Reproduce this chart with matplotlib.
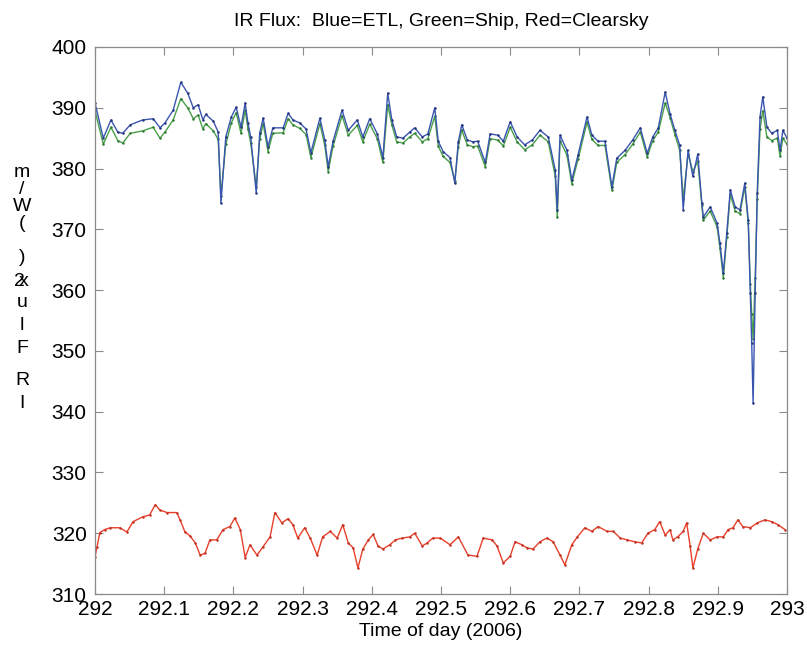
import matplotlib
matplotlib.use("Agg")
import matplotlib.pyplot as plt

plt.rcParams['font.family'] = ['Liberation Sans', 'DejaVu Sans']

# ---- data ----
t_obs = [292.000, 292.012, 292.023, 292.033, 292.040, 292.051, 292.069, 292.084, 292.094, 292.101,
         292.113, 292.124, 292.134, 292.142, 292.149, 292.156, 292.160, 292.171, 292.178, 292.182,
         292.189, 292.197, 292.204, 292.211, 292.217, 292.221, 292.225, 292.233, 292.238, 292.243,
         292.250, 292.257, 292.272, 292.279, 292.286, 292.296, 292.305, 292.312, 292.325, 292.332,
         292.337, 292.344, 292.357, 292.366, 292.379, 292.387, 292.397, 292.408, 292.416, 292.423,
         292.429, 292.436, 292.445, 292.455, 292.462, 292.473, 292.481, 292.491, 292.496, 292.503,
         292.513, 292.520, 292.525, 292.530, 292.538, 292.546, 292.553, 292.564, 292.571, 292.582,
         292.590, 292.600, 292.610, 292.621, 292.632, 292.643, 292.655, 292.665, 292.668, 292.672,
         292.682, 292.689, 292.698, 292.711, 292.718, 292.727, 292.737, 292.747, 292.754, 292.766,
         292.777, 292.788, 292.798, 292.806, 292.814, 292.824, 292.831, 292.838, 292.845, 292.850,
         292.857, 292.864, 292.871, 292.877, 292.879, 292.889, 292.899, 292.903, 292.908, 292.913,
         292.918, 292.925, 292.932, 292.939, 292.944, 292.947, 292.949, 292.951, 292.954, 292.957,
         292.961, 292.965, 292.971, 292.978, 292.986, 292.990, 292.994, 293.000]

etl = [390.8, 385.0, 388.0, 386.0, 385.8, 387.2, 388.0, 388.2, 386.7, 387.5,
       389.6, 394.2, 392.4, 390.0, 390.5, 388.0, 388.9, 387.8, 386.0, 374.3,
       385.2, 388.5, 390.1, 386.8, 390.8, 387.5, 385.2, 376.0, 385.8, 388.3,
       383.6, 386.7, 386.7, 389.1, 388.0, 387.5, 386.5, 382.6, 388.3, 384.7,
       380.3, 384.5, 389.6, 386.3, 388.0, 385.2, 388.2, 385.7, 381.8, 392.4,
       388.0, 385.2, 385.0, 386.0, 386.7, 385.2, 385.7, 390.0, 384.5, 382.8,
       381.8, 377.6, 384.4, 387.2, 384.7, 384.4, 384.5, 381.0, 385.7, 385.5,
       384.5, 387.7, 385.2, 383.9, 384.7, 386.3, 385.2, 379.8, 373.2, 385.5,
       383.0, 378.1, 382.2, 388.5, 385.5, 384.5, 384.5, 377.0, 381.7, 383.0,
       384.7, 386.7, 382.5, 385.2, 386.7, 392.6, 389.0, 386.3, 383.8, 373.2,
       383.0, 378.7, 382.4, 374.3, 372.0, 373.7, 371.0, 367.8, 362.8, 369.4,
       376.5, 373.7, 373.2, 377.6, 371.5, 359.5, 351.3, 341.4, 359.5, 376.0,
       388.5, 391.8, 386.8, 385.8, 386.3, 383.0, 386.3, 385.0]

ship = [389.5, 384.0, 386.8, 384.6, 384.2, 385.8, 386.2, 386.8, 385.0, 386.0,
        388.0, 391.5, 390.0, 388.2, 388.8, 386.5, 387.4, 386.2, 384.8, 375.5,
        384.0, 387.5, 389.2, 385.8, 389.6, 386.5, 384.2, 377.0, 384.8, 387.4,
        382.8, 385.8, 385.9, 388.2, 387.2, 386.6, 385.6, 381.8, 387.4, 383.8,
        379.5, 383.7, 388.7, 385.5, 387.1, 384.4, 387.3, 384.9, 381.0, 390.5,
        387.2, 384.4, 384.2, 385.2, 385.8, 384.4, 384.9, 388.6, 383.7, 382.0,
        381.0, 378.0, 383.6, 386.3, 383.9, 383.6, 383.7, 380.3, 384.9, 384.7,
        383.7, 386.8, 384.4, 383.1, 383.9, 385.5, 384.4, 378.8, 372.0, 384.6,
        382.2, 377.5, 381.5, 387.6, 384.8, 383.8, 383.8, 376.4, 381.0, 382.3,
        384.0, 386.0, 381.9, 384.6, 386.0, 390.8, 388.4, 385.6, 383.0, 375.0,
        382.4, 379.5, 381.2, 374.0, 371.5, 373.0, 370.4, 367.0, 362.0, 368.7,
        375.8, 373.0, 372.6, 377.0, 371.0, 361.0, 356.0, 352.0, 362.0, 375.0,
        386.5, 389.5, 385.2, 384.6, 385.0, 382.0, 385.0, 384.0]

t_clr = [292.000, 292.003, 292.007, 292.014, 292.022, 292.036, 292.046, 292.055, 292.069, 292.079,
         292.087, 292.094, 292.104, 292.118, 292.123, 292.130, 292.137, 292.145, 292.152, 292.159,
         292.166, 292.176, 292.185, 292.195, 292.202, 292.210, 292.217, 292.224, 292.234, 292.243,
         292.253, 292.260, 292.270, 292.279, 292.286, 292.293, 292.303, 292.311, 292.321, 292.329,
         292.340, 292.350, 292.358, 292.366, 292.373, 292.380, 292.387, 292.395, 292.402, 292.409,
         292.416, 292.426, 292.434, 292.444, 292.455, 292.462, 292.473, 292.480, 292.488, 292.499,
         292.513, 292.525, 292.539, 292.552, 292.561, 292.574, 292.581, 292.590, 292.600, 292.607,
         292.617, 292.624, 292.633, 292.643, 292.653, 292.662, 292.672, 292.679, 292.689, 292.697,
         292.708, 292.718, 292.727, 292.740, 292.749, 292.759, 292.769, 292.780, 292.790, 292.799,
         292.809, 292.816, 292.824, 292.831, 292.835, 292.842, 292.850, 292.855, 292.860, 292.864,
         292.871, 292.879, 292.889, 292.899, 292.908, 292.915, 292.922, 292.929, 292.936, 292.947,
         292.957, 292.968, 292.978, 292.987, 292.997]

clearsky = [316.1, 317.8, 320.1, 320.6, 320.9, 320.9, 320.2, 321.9, 322.7, 323.0,
            324.7, 323.8, 323.4, 323.4, 322.2, 320.2, 319.6, 318.4, 316.4, 316.7,
            318.9, 318.9, 320.6, 321.1, 322.5, 320.6, 316.0, 318.1, 316.4, 317.8,
            319.4, 323.4, 321.7, 322.4, 321.4, 319.2, 320.9, 319.2, 316.4, 319.4,
            320.3, 319.2, 321.4, 318.4, 317.6, 314.3, 317.4, 318.9, 319.8, 317.9,
            317.4, 318.1, 318.9, 319.2, 319.4, 320.0, 317.9, 318.4, 319.2, 319.2,
            318.1, 319.4, 316.4, 316.2, 319.2, 318.9, 317.9, 315.1, 316.2, 318.6,
            318.1, 317.6, 317.4, 318.6, 319.2, 318.6, 316.4, 314.8, 318.1, 319.4,
            320.9, 320.3, 321.1, 320.3, 320.3, 319.2, 318.9, 318.6, 318.4, 320.0,
            320.6, 321.9, 319.7, 320.6, 318.9, 319.4, 320.3, 321.7, 317.9, 314.3,
            317.4, 320.0, 318.9, 319.4, 319.4, 320.6, 320.9, 322.2, 321.1, 320.9,
            321.7, 322.2, 321.9, 321.4, 320.6]

x_ticks = [292, 292.1, 292.2, 292.3, 292.4, 292.5, 292.6, 292.7, 292.8, 292.9, 293]
x_tick_labels = ['292', '292.1', '292.2', '292.3', '292.4', '292.5', '292.6', '292.7',
                 '292.8', '292.9', '293']
y_ticks = [310, 320, 330, 340, 350, 360, 370, 380, 390, 400]

title = 'IR Flux:  Blue=ETL, Green=Ship, Red=Clearsky'
xlabel = 'Time of day (2006)'
ylabel_chars = ['m', '/', 'W', '(', ')', '2', 'x', 'u', 'l', 'F', 'R', 'I']

# ---- figure ----
W, H = 807, 648
fig = plt.figure(figsize=(W / 100, H / 100), dpi=100)
ax = fig.add_axes([95 / W, 54 / H, 692 / W, 547 / H])

ax.plot(t_clr, clearsky, color='#e8402a', lw=1.0, marker='.', ms=1.6,
        mfc='#c03225', mec='#c03225')
ax.plot(t_obs, ship, color='#4aa04a', lw=1.0, marker='.', ms=1.6,
        mfc='#2f7a35', mec='#2f7a35')
ax.plot(t_obs, etl, color='#3a55b0', lw=1.0, marker='.', ms=1.6,
        mfc='#25357a', mec='#25357a')

ax.set_xlim(292, 293)
ax.set_ylim(310, 400)
ax.set_xticks(x_ticks)
ax.set_xticklabels(x_tick_labels)
ax.set_yticks(y_ticks)

for s in ax.spines.values():
    s.set_color('#8a8a8a')
    s.set_linewidth(0.9)
ax.tick_params(direction='in', length=6, width=0.8, color='#8a8a8a',
               top=True, right=True, labelsize=15)
ax.tick_params(axis='x', pad=4)
ax.tick_params(axis='y', pad=6)

ax.set_title(title, fontsize=14, pad=15)
ax.set_xlabel(xlabel, fontsize=14, labelpad=3)

# stacked (garbled) y label as individual characters
ylab_pos = [172, 189, 206, 224, 257, 281, 281, 302, 326, 348, 380, 403]
ylab_dx = [0, 0, 0, 0, 0, -3, 2, 0, 0, 0, 0, 0]
for ch, yp, dx in zip(ylabel_chars, ylab_pos, ylab_dx):
    fig.text((22 + dx) / W, 1 - yp / H, ch, fontsize=14, ha='center', va='center')

fig.savefig('out.png', dpi=100)
